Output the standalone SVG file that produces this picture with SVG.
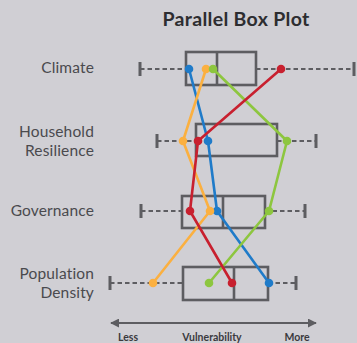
<svg xmlns="http://www.w3.org/2000/svg" width="357" height="343" viewBox="0 0 357 343">
<style>
.lbl{font-family:Lato,"Open Sans",sans-serif;font-size:15.5px;fill:#4a4a4e;text-anchor:end;letter-spacing:0.15px}
.ttl{font-family:Lato,"Open Sans",sans-serif;font-size:19.5px;font-weight:bold;fill:#2d2d30;text-anchor:middle;letter-spacing:0.3px}
.ax{font-family:Lato,"Open Sans",sans-serif;font-size:10.5px;font-weight:bold;fill:#3a3a3e;text-anchor:middle}
.box{fill:none;stroke:#5d5d61;stroke-width:2.6}
.wh{stroke:#5d5d61;stroke-width:2.2;stroke-dasharray:4.5 3;fill:none}
.cap{stroke:#5d5d61;stroke-width:3}
.ln{fill:none;stroke-width:2.6;stroke-linejoin:round}
.b{stroke:#1f7bc9}.o{stroke:#fbb040}.g{stroke:#8dc63f}.r{stroke:#c8202f}
.bf{fill:#1f7bc9}.of{fill:#fbb040}.gf{fill:#8dc63f}.rf{fill:#c8202f}
</style>
<defs>
<marker id="ah" viewBox="0 0 10 10" refX="9" refY="5" markerWidth="9" markerHeight="9" orient="auto-start-reverse" markerUnits="userSpaceOnUse"><path d="M0,0 L10,5 L0,10 z" fill="#5d5d61"/></marker>
</defs>
<rect width="357" height="343" fill="#d0cfd4"/>
<text class="ttl" x="236" y="26">Parallel Box Plot</text>
<g id="climate">
<text class="lbl" x="94" y="73">Climate</text>
<line class="wh" x1="140" y1="69" x2="186" y2="69"/><line class="wh" x1="256" y1="69" x2="354" y2="69"/>
<line class="cap" x1="140" y1="62" x2="140" y2="76"/><line class="cap" x1="354" y1="62" x2="354" y2="76"/>
<rect class="box" x="186" y="52" width="70" height="33"/><line class="box" x1="217" y1="52" x2="217" y2="85"/>
</g>
<g id="household">
<text class="lbl" x="94" y="136.5">Household<tspan x="94" dy="19">Resilience</tspan></text>
<line class="wh" x1="157" y1="141" x2="196" y2="141"/><line class="wh" x1="277" y1="141" x2="316" y2="141"/>
<line class="cap" x1="157" y1="134" x2="157" y2="148"/><line class="cap" x1="316" y1="134" x2="316" y2="148"/>
<rect class="box" x="196" y="124" width="81" height="32"/>
</g>
<g id="governance">
<text class="lbl" x="94" y="216">Governance</text>
<line class="wh" x1="141" y1="211" x2="182" y2="211"/><line class="wh" x1="265" y1="211" x2="305" y2="211"/>
<line class="cap" x1="141" y1="204" x2="141" y2="218"/><line class="cap" x1="305" y1="204" x2="305" y2="218"/>
<rect class="box" x="182" y="196" width="83" height="32"/><line class="box" x1="223" y1="196" x2="223" y2="228"/>
</g>
<g id="population">
<text class="lbl" x="94" y="278.5">Population<tspan x="94" dy="19">Density</tspan></text>
<line class="wh" x1="110" y1="283" x2="183" y2="283"/><line class="wh" x1="268" y1="283" x2="296" y2="283"/>
<line class="cap" x1="110" y1="276" x2="110" y2="290"/><line class="cap" x1="296" y1="276" x2="296" y2="290"/>
<rect class="box" x="183" y="267" width="85" height="33"/><line class="box" x1="234" y1="267" x2="234" y2="300"/>
</g>
<g id="connectors">
<polyline class="ln b" points="189,69 208,141 217,211 269,283"/>
<polyline class="ln o" points="206,69 183,141 210,211 153,283"/>
<polyline class="ln g" points="213,69 287,141 269,211 209,283"/>
<polyline class="ln r" points="281,69 198,141 190,211 232,283"/>
<g class="bf"><circle cx="189" cy="69" r="4.3"/><circle cx="208" cy="141" r="4.3"/><circle cx="217" cy="211" r="4.3"/><circle cx="269" cy="283" r="4.3"/></g>
<g class="of"><circle cx="206" cy="69" r="4.3"/><circle cx="183" cy="141" r="4.3"/><circle cx="210" cy="211" r="4.3"/><circle cx="153" cy="283" r="4.3"/></g>
<g class="gf"><circle cx="213" cy="69" r="4.3"/><circle cx="287" cy="141" r="4.3"/><circle cx="269" cy="211" r="4.3"/><circle cx="209" cy="283" r="4.3"/></g>
<g class="rf"><circle cx="281" cy="69" r="4.3"/><circle cx="198" cy="141" r="4.3"/><circle cx="190" cy="211" r="4.3"/><circle cx="232" cy="283" r="4.3"/></g>
</g>
<g id="axis">
<line x1="111" y1="323" x2="316" y2="323" stroke="#5d5d61" stroke-width="2" marker-start="url(#ah)" marker-end="url(#ah)"/>
<text class="ax" x="128" y="341">Less</text><text class="ax" x="212" y="341">Vulnerability</text><text class="ax" x="297" y="341">More</text>
</g>
</svg>
